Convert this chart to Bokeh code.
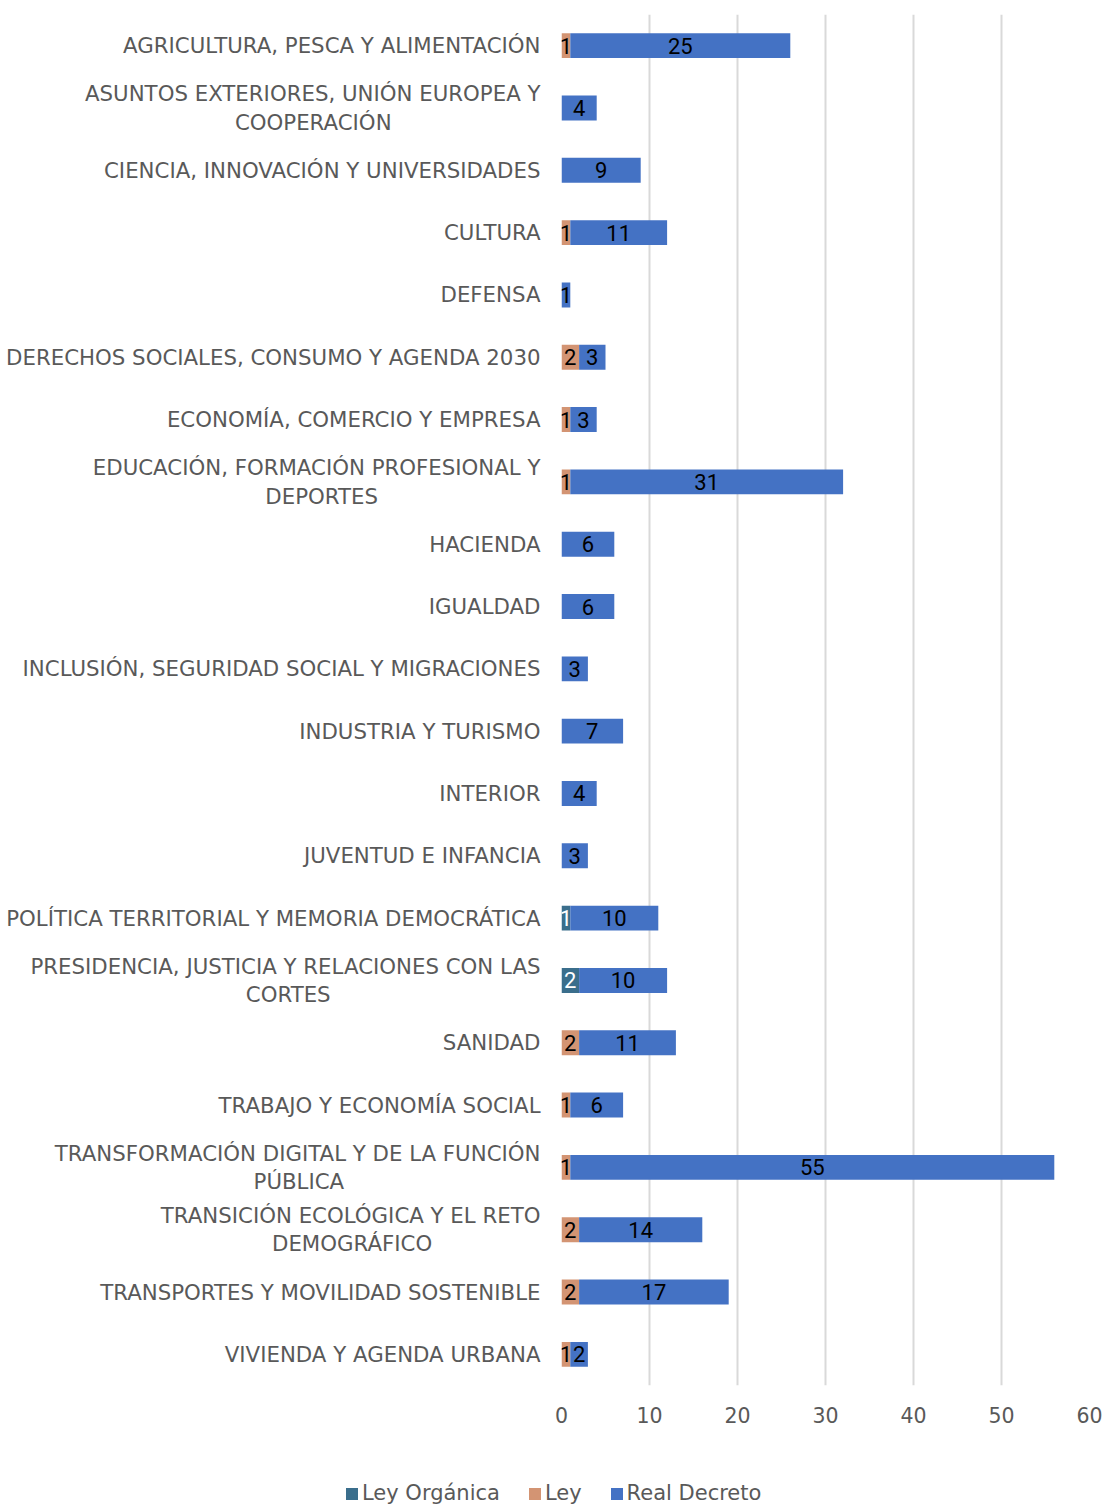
from bokeh.plotting import figure
from bokeh.models import FactorRange, Range1d, ColumnDataSource, Legend, LegendItem
from bokeh.layouts import column
from bokeh.core.properties import value
from bokeh.embed import file_html
from bokeh.resources import INLINE

categories = [
    "AGRICULTURA, PESCA Y ALIMENTACIÓN",
    "ASUNTOS EXTERIORES, UNIÓN EUROPEA Y\nCOOPERACIÓN",
    "CIENCIA, INNOVACIÓN Y UNIVERSIDADES",
    "CULTURA",
    "DEFENSA",
    "DERECHOS SOCIALES, CONSUMO Y AGENDA 2030",
    "ECONOMÍA, COMERCIO Y EMPRESA",
    "EDUCACIÓN, FORMACIÓN PROFESIONAL Y\nDEPORTES",
    "HACIENDA",
    "IGUALDAD",
    "INCLUSIÓN, SEGURIDAD SOCIAL Y MIGRACIONES",
    "INDUSTRIA Y TURISMO",
    "INTERIOR",
    "JUVENTUD E INFANCIA",
    "POLÍTICA TERRITORIAL Y MEMORIA DEMOCRÁTICA",
    "PRESIDENCIA, JUSTICIA Y RELACIONES CON LAS\nCORTES",
    "SANIDAD",
    "TRABAJO Y ECONOMÍA SOCIAL",
    "TRANSFORMACIÓN DIGITAL Y DE LA FUNCIÓN\nPÚBLICA",
    "TRANSICIÓN ECOLÓGICA Y EL RETO\nDEMOGRÁFICO",
    "TRANSPORTES Y MOVILIDAD SOSTENIBLE",
    "VIVIENDA Y AGENDA URBANA",
]
ley_organica = [0, 0, 0, 0, 0, 0, 0, 0, 0, 0, 0, 0, 0, 0, 1, 2, 0, 0, 0, 0, 0, 0]
ley = [1, 0, 0, 1, 0, 2, 1, 1, 0, 0, 0, 0, 0, 0, 0, 0, 2, 1, 1, 2, 2, 1]
real_decreto = [25, 4, 9, 11, 1, 3, 3, 31, 6, 6, 3, 7, 4, 3, 10, 10, 11, 6, 55, 14, 17, 2]
series_names = ["Ley Orgánica", "Ley", "Real Decreto"]
x_ticks = [0, 10, 20, 30, 40, 50, 60]

colors = ["#3A6E8C", "#D39473", "#4472C4"]
label_colors = ["white", "black", "black"]
FONT = "DejaVu Sans"
NUMFONT = "Roboto"
GRAY = "#595959"

# second lines of wrapped labels are centred under the first line: pad them
# with non-breaking spaces (layout only)
second_line_pad = {1: 22, 7: 24, 15: 31, 18: 29, 19: 16}
display = []
for i, c in enumerate(categories):
    if i in second_line_pad:
        display.append(c + "\u00a0" * second_line_pad[i])
    else:
        display.append(c)

src = ColumnDataSource(dict(cat=display, lo=ley_organica, ley=ley, rd=real_decreto))

p = figure(width=1106, height=1450, output_backend="svg", toolbar_location=None,
           y_range=FactorRange(*list(reversed(display))),
           x_range=Range1d(0, 60),
           min_border_left=561, min_border_right=17, min_border_top=14, min_border_bottom=65)
p.outline_line_color = None
p.background_fill_color = "white"
p.border_fill_color = "white"

renderers = p.hbar_stack(["lo", "ley", "rd"], y="cat", height=0.40, color=colors,
                         line_color=None, source=src)

# data labels
series = [ley_organica, ley, real_decreto]
for si, vals in enumerate(series):
    xs, ys, ts = [], [], []
    for ci, c in enumerate(display):
        v = vals[ci]
        if v > 0:
            start = sum(series[k][ci] for k in range(si))
            xs.append(start + v / 2)
            ys.append(c)
            ts.append(str(v))
    p.text(x=xs, y=ys, text=ts, text_align="center", text_baseline="middle",
           text_font=value(NUMFONT), text_font_size="22px", text_color=label_colors[si])

p.ygrid.grid_line_color = None
p.xgrid.grid_line_color = "#D9D9D9"
p.xgrid.grid_line_width = 2
p.xaxis.ticker = x_ticks
p.xaxis.axis_line_color = None
p.xaxis.major_tick_line_color = None
p.xaxis.minor_tick_line_color = None
p.xaxis.major_label_text_font = FONT
p.xaxis.major_label_text_font_size = "20.5px"
p.xaxis.major_label_text_color = GRAY
p.xaxis.major_label_standoff = 15

p.yaxis.axis_line_color = None
p.yaxis.major_tick_line_color = None
p.yaxis.major_tick_out = 0
p.yaxis.major_label_text_font = FONT
p.yaxis.major_label_text_font_size = "21.3px"
p.yaxis.major_label_text_color = GRAY
p.yaxis.major_label_standoff = 21
p.yaxis.major_label_text_line_height = 1.13

# legend strip below the chart
p2 = figure(width=1106, height=55, output_backend="svg", toolbar_location=None,
            x_range=Range1d(0, 1), y_range=Range1d(0, 1),
            min_border_left=0, min_border_right=0, min_border_top=0, min_border_bottom=0)
p2.axis.visible = False
p2.grid.visible = False
p2.outline_line_color = None
p2.background_fill_color = "white"
for fig in (p, p2):
    if "frame_align" in fig.properties():
        fig.frame_align = False
leg_renderers = [p2.rect(x=[-5], y=[-5], width=0.1, height=0.1, fill_color=c, line_color=None)
                 for c in colors]
legend = Legend(items=[LegendItem(label=n, renderers=[r]) for n, r in zip(series_names, leg_renderers)],
                orientation="horizontal", location=(344, 0),
                label_text_font=FONT, label_text_font_size="21px", label_text_color=GRAY,
                glyph_width=15, glyph_height=15, spacing=27, label_standoff=3,
                border_line_color=None, background_fill_alpha=0, padding=0, margin=0)
p2.add_layout(legend, "center")

layout = column(p, p2, spacing=0)
open("out.html", "w").write(file_html(layout, INLINE))
